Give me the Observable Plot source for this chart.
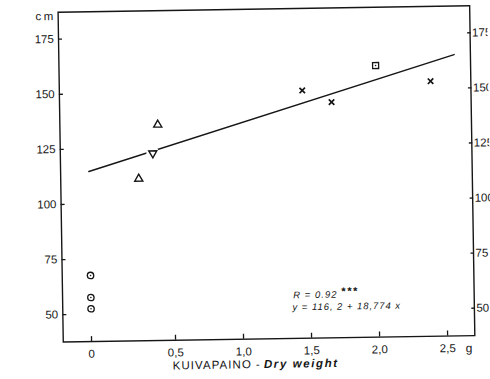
<!DOCTYPE html>
<html>
<head>
<meta charset="utf-8">
<script src="https://cdn.jsdelivr.net/npm/d3@7"></script>
<script src="https://cdn.jsdelivr.net/npm/@observablehq/plot@0.6"></script>
<style>
  html, body { margin: 0; padding: 0; background: #fff; overflow: hidden; }
  #chart svg { display: block; transform: rotate(-0.9deg); transform-origin: 245px 189.5px; }
</style>
</head>
<body>
<div id="chart"></div>
<script>
// ---- data ----
const yTicks = [50, 75, 100, 125, 150, 175];
const xTicks = [0, 0.5, 1, 1.5, 2, 2.5];
const xTickLabels = ["0", "0,5", "1,0", "1,5", "2,0", "2,5"];

// seedlings with zero dry weight (circle with dot)
const circleX = [0, 0, 0];
const circleY = [67.6, 57.6, 52.5];
// open triangles
const triUpX = [0.296, 0.414];
const triUpY = [111.1, 135.5];
// inverted triangle
const triDownX = [0.382];
const triDownY = [122.6];
// crosses
const crossX = [1.46, 1.674, 2.404];
const crossY = [150.0, 144.5, 153.3];
// square with dot
const squareX = [2.002];
const squareY = [160.8];

// regression line as drawn (end points)
const fitX = [0, 2.58];
const fitY = [114.8, 165.2];

const rText = "R = 0.92";
const rStars = "***";
const eqText = "y = 116, 2 + 18,774 x";
const yUnit = "cm";
const xUnit = "g";
const xLabelA = "KUIVAPAINO -";
const xLabelB = "Dry weight";

// ---- tables ----
const pts = (xs, ys) => xs.map((x, i) => ({x, y: ys[i]}));
const circles = pts(circleX, circleY);
const triUp = pts(triUpX, triUpY);
const triDown = pts(triDownX, triDownY);
const crosses = pts(crossX, crossY);
const squares = pts(squareX, squareY);
const fit = pts(fitX, fitY);

const symbolTriangleDown = {
  draw(context, size) {
    const y = -Math.sqrt(size / (Math.sqrt(3) * 3));
    context.moveTo(0, -y * 2);
    context.lineTo(-Math.sqrt(3) * y, y);
    context.lineTo(Math.sqrt(3) * y, y);
    context.closePath();
  }
};

const ink = "#161616";
const font = "'Liberation Sans', Arial, sans-serif";

const chart = Plot.plot({
  width: 490,
  height: 379,
  marginLeft: 60.4,
  marginRight: 18,
  marginTop: 8.8,
  marginBottom: 40.3,
  style: {fontFamily: font, fontSize: "11.5px", color: ink, background: "#fff"},
  x: {type: "linear", domain: [-0.168, 0, 0.5, 2.70], range: [60.4, 88.7, 172.7, 472], label: null},
  y: {domain: [37.57, 187.25], label: null},
  marks: [
    Plot.frame({stroke: ink, strokeWidth: 1.4}),
    // inward ticks
    Plot.axisY(yTicks, {anchor: "left", tickSize: -4, tickFormat: () => "", stroke: ink, strokeWidth: 1.3, label: null}),
    Plot.axisY(yTicks, {anchor: "right", tickSize: -3.5, tickFormat: () => "", stroke: ink, strokeWidth: 1.3, label: null}),
    Plot.axisX(xTicks, {anchor: "bottom", tickSize: -5, tickFormat: () => "", stroke: ink, strokeWidth: 1.3, label: null}),
    // tick labels
    Plot.axisY(yTicks, {anchor: "left", tickSize: 0, tickPadding: 4.7, fill: ink, label: null}),
    Plot.axisY(yTicks, {anchor: "right", tickSize: 0, tickPadding: 2, fill: ink, label: null}),
    Plot.axisX(xTicks, {anchor: "bottom", tickSize: 0, tickPadding: 8, fill: ink, label: null,
      tickFormat: d => xTickLabels[xTicks.indexOf(d)]}),
    // units and axis title
    Plot.text([yUnit], {frameAnchor: "top-left", textAnchor: "end", lineAnchor: "middle", dx: -2.4, dy: 4, fill: ink, fontSize: 11.5}),
    Plot.text([xUnit], {frameAnchor: "bottom-right", textAnchor: "middle", lineAnchor: "top", dx: -6, dy: 8, fill: ink, fontSize: 12}),
    Plot.text([xLabelA], {frameAnchor: "bottom", textAnchor: "end", lineAnchor: "middle", dx: -8.5, dy: 25.4, fill: ink, fontSize: 11.5}),
    Plot.text([xLabelB], {frameAnchor: "bottom", textAnchor: "start", lineAnchor: "middle", dx: -5.6, dy: 25.4, fill: ink, fontSize: 11.5, fontStyle: "italic", fontWeight: "bold"}),
    // regression line
    Plot.line(fit, {x: "x", y: "y", stroke: ink, strokeWidth: 1.5}),
    // points
    Plot.dot(triDown, {x: "x", y: "y", r: 6.5, fill: "#fff", stroke: null}),
    Plot.dot(circles, {x: "x", y: "y", symbol: "circle", r: 3.2, fill: "none", stroke: ink, strokeWidth: 1.3}),
    Plot.dot(circles, {x: "x", y: "y", r: 0.8, fill: ink, stroke: null}),
    Plot.dot(triUp, {x: "x", y: "y", symbol: "triangle", r: 3, fill: "none", stroke: ink, strokeWidth: 1.4}),
    Plot.dot(triDown, {x: "x", y: "y", symbol: symbolTriangleDown, r: 3, fill: "#fff", stroke: ink, strokeWidth: 1.4}),
    Plot.dot(crosses, {x: "x", y: "y", symbol: "times", r: 2.6, fill: "none", stroke: ink, strokeWidth: 1.7}),
    Plot.dot(squares, {x: "x", y: "y", symbol: "square", r: 3.4, fill: "none", stroke: ink, strokeWidth: 1.3}),
    Plot.dot(squares, {x: "x", y: "y", r: 0.8, fill: ink, stroke: null}),
    // annotation
    Plot.text([rText], {x: 1.37, y: 57.2, textAnchor: "start", lineAnchor: "middle", fill: ink, fontSize: 9.5, fontStyle: "italic"}),
    Plot.text([rStars], {x: 1.722, y: 58.6, textAnchor: "start", lineAnchor: "middle", fill: ink, fontSize: 11, fontStyle: "italic", fontWeight: "bold"}),
    Plot.text([eqText], {x: 1.363, y: 51.7, textAnchor: "start", lineAnchor: "middle", fill: ink, fontSize: 9.5, fontStyle: "italic"})
  ]
});

// letter spacing of the typeset labels (Plot.text has no letterSpacing option)
const spacing = new Map([[yUnit, 2.5], [xLabelA, 1.05], [xLabelB, 1.6], [rText, 1.0], [eqText, 0.95], [rStars, 1.5]]);
d3.select(chart).selectAll("text").each(function () {
  const s = spacing.get(this.textContent);
  if (s != null) this.style.letterSpacing = s + "px";
});

document.getElementById("chart").append(chart);
</script>
</body>
</html>
